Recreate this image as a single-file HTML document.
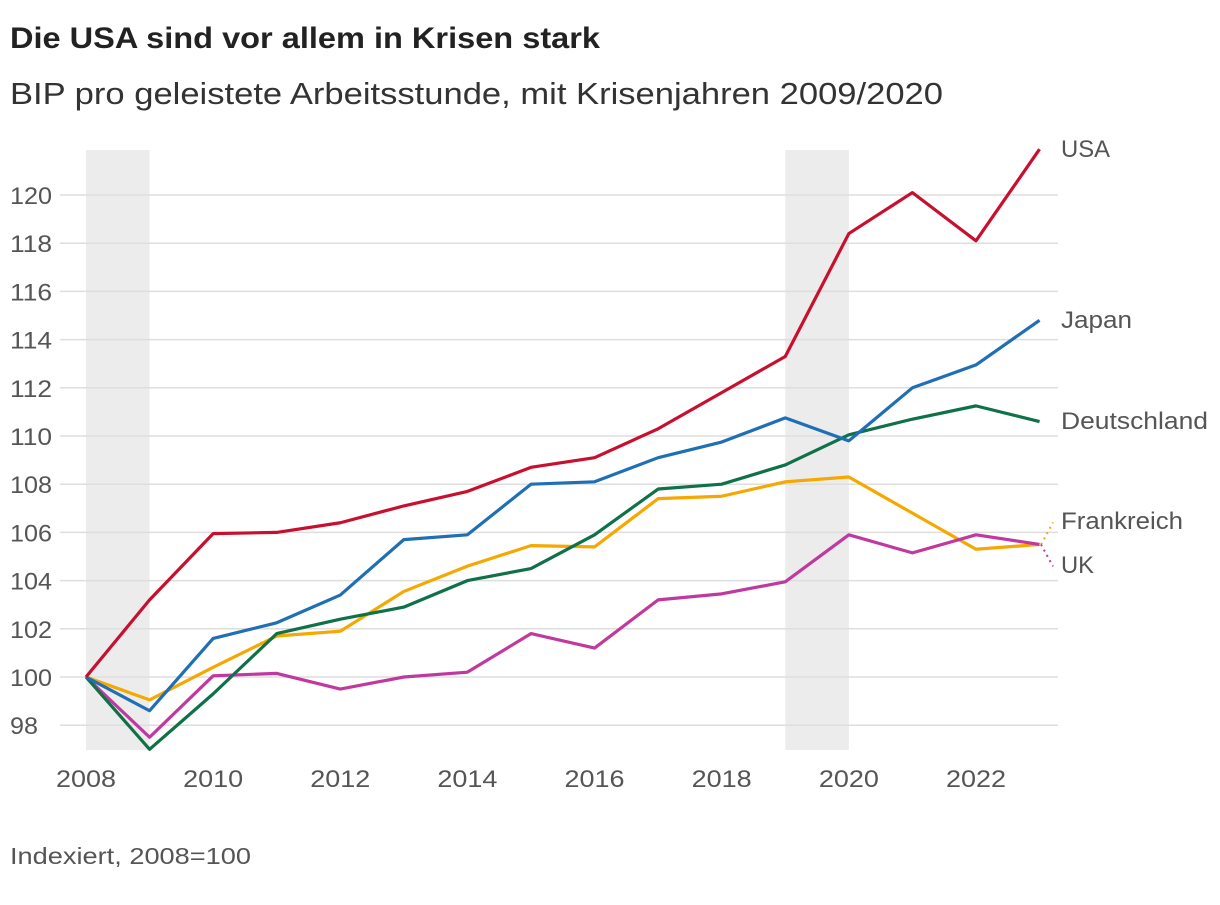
<!DOCTYPE html>
<html><head><meta charset="utf-8"><style>
body{margin:0;background:#fff;font-family:"Liberation Sans",sans-serif;}
</style></head><body>
<svg width="1220" height="900" xmlns="http://www.w3.org/2000/svg">
<text x="10" y="48" font-size="30" font-weight="bold" fill="#222" textLength="590" lengthAdjust="spacingAndGlyphs">Die USA sind vor allem in Krisen stark</text>
<text x="10" y="104" font-size="31" fill="#333" textLength="933" lengthAdjust="spacingAndGlyphs">BIP pro geleistete Arbeitsstunde, mit Krisenjahren 2009/2020</text>
<g id="bands"></g>
<g id="grid"></g>
<g id="lines"></g>
<g id="labels"></g>
<text x="10" y="864" font-size="23" fill="#555" textLength="241" lengthAdjust="spacingAndGlyphs">Indexiert, 2008=100</text>
</svg>
<script>
const years=[2008,2009,2010,2011,2012,2013,2014,2015,2016,2017,2018,2019,2020,2021,2022,2023];
const usa=[100,103.2,105.95,106.0,106.4,107.1,107.7,108.7,109.1,110.3,111.8,113.3,118.4,120.1,118.1,121.9];
const japan=[100,98.6,101.6,102.25,103.4,105.7,105.9,108.0,108.1,109.1,109.75,110.75,109.8,112.0,112.95,114.8];
const deutschland=[100,97.0,99.3,101.8,102.4,102.9,104.0,104.5,105.9,107.8,108.0,108.8,110.05,110.7,111.25,110.6];
const frankreich=[100,99.05,100.4,101.7,101.9,103.55,104.6,105.45,105.4,107.4,107.5,108.1,108.3,106.8,105.3,105.5];
const uk=[100,97.5,100.05,100.15,99.5,100.0,100.2,101.8,101.2,103.2,103.45,103.95,105.9,105.15,105.9,105.5];
const yTicks=[98,100,102,104,106,108,110,112,114,116,118,120];
const xTicks=[2008,2010,2012,2014,2016,2018,2020,2022];
const crises=[[2008,2009],[2019,2020]];
const NS="http://www.w3.org/2000/svg";
const x=v=>86+(v-2008)*63.57;
const y=v=>677-(v-100)*24.1;
function mk(t,a,p){const e=document.createElementNS(NS,t);for(const k in a)e.setAttribute(k,a[k]);p.appendChild(e);return e;}
const bands=document.getElementById('bands');
crises.forEach(c=>{const r=mk('rect',{x:x(c[0]),y:150,width:x(c[1])-x(c[0]),height:600,fill:'#ececec'},bands);

});
const grid=document.getElementById('grid');
yTicks.forEach(t=>{const l=mk('line',{x1:60,x2:1058,y1:y(t),y2:y(t),stroke:'#dedede','stroke-width':1.5},grid);


const tx=mk('text',{x:10,y:y(t)+9,'font-size':24,fill:'#555',textLength:t<100?28:42,lengthAdjust:'spacingAndGlyphs'},grid);tx.textContent=t;

});
xTicks.forEach(t=>{const tx=mk('text',{x:x(t),y:787,'font-size':24,fill:'#555','text-anchor':'middle',textLength:60,lengthAdjust:'spacingAndGlyphs'},grid);tx.textContent=t;

});
const series=[['frankreich',frankreich,'#f5a800'],['uk',uk,'#c0399f'],['deutschland',deutschland,'#0f7148'],['japan',japan,'#1f6fb5'],['usa',usa,'#c8102e']];
const lg=document.getElementById('lines');
series.forEach(s=>{const p=mk('polyline',{points:s[1].map((v,i)=>x(years[i])+','+y(v)).join(' '),fill:'none',stroke:s[2],'stroke-width':3.2,'stroke-linejoin':'round'},lg);

});
const lb=document.getElementById('labels');
const labs=[['USA',157,null,0,49],['Japan',328,null,0,71],['Deutschland',429,null,0,147],['Frankreich',529,'#f5a800',-1,122],['UK',573,'#c0399f',1,33]];
labs.forEach(l=>{const tx=mk('text',{x:1061,y:l[1],'font-size':24,fill:'#555',textLength:l[4],lengthAdjust:'spacingAndGlyphs'},lb);tx.textContent=l[0];


if(l[2]){const ln=mk('line',{x1:1041,y1:y(105.5),x2:1053,y2:y(105.5)+l[3]*22,stroke:l[2],'stroke-width':2,'stroke-dasharray':'2,4'},lb);

}});
</script>
</body></html>
